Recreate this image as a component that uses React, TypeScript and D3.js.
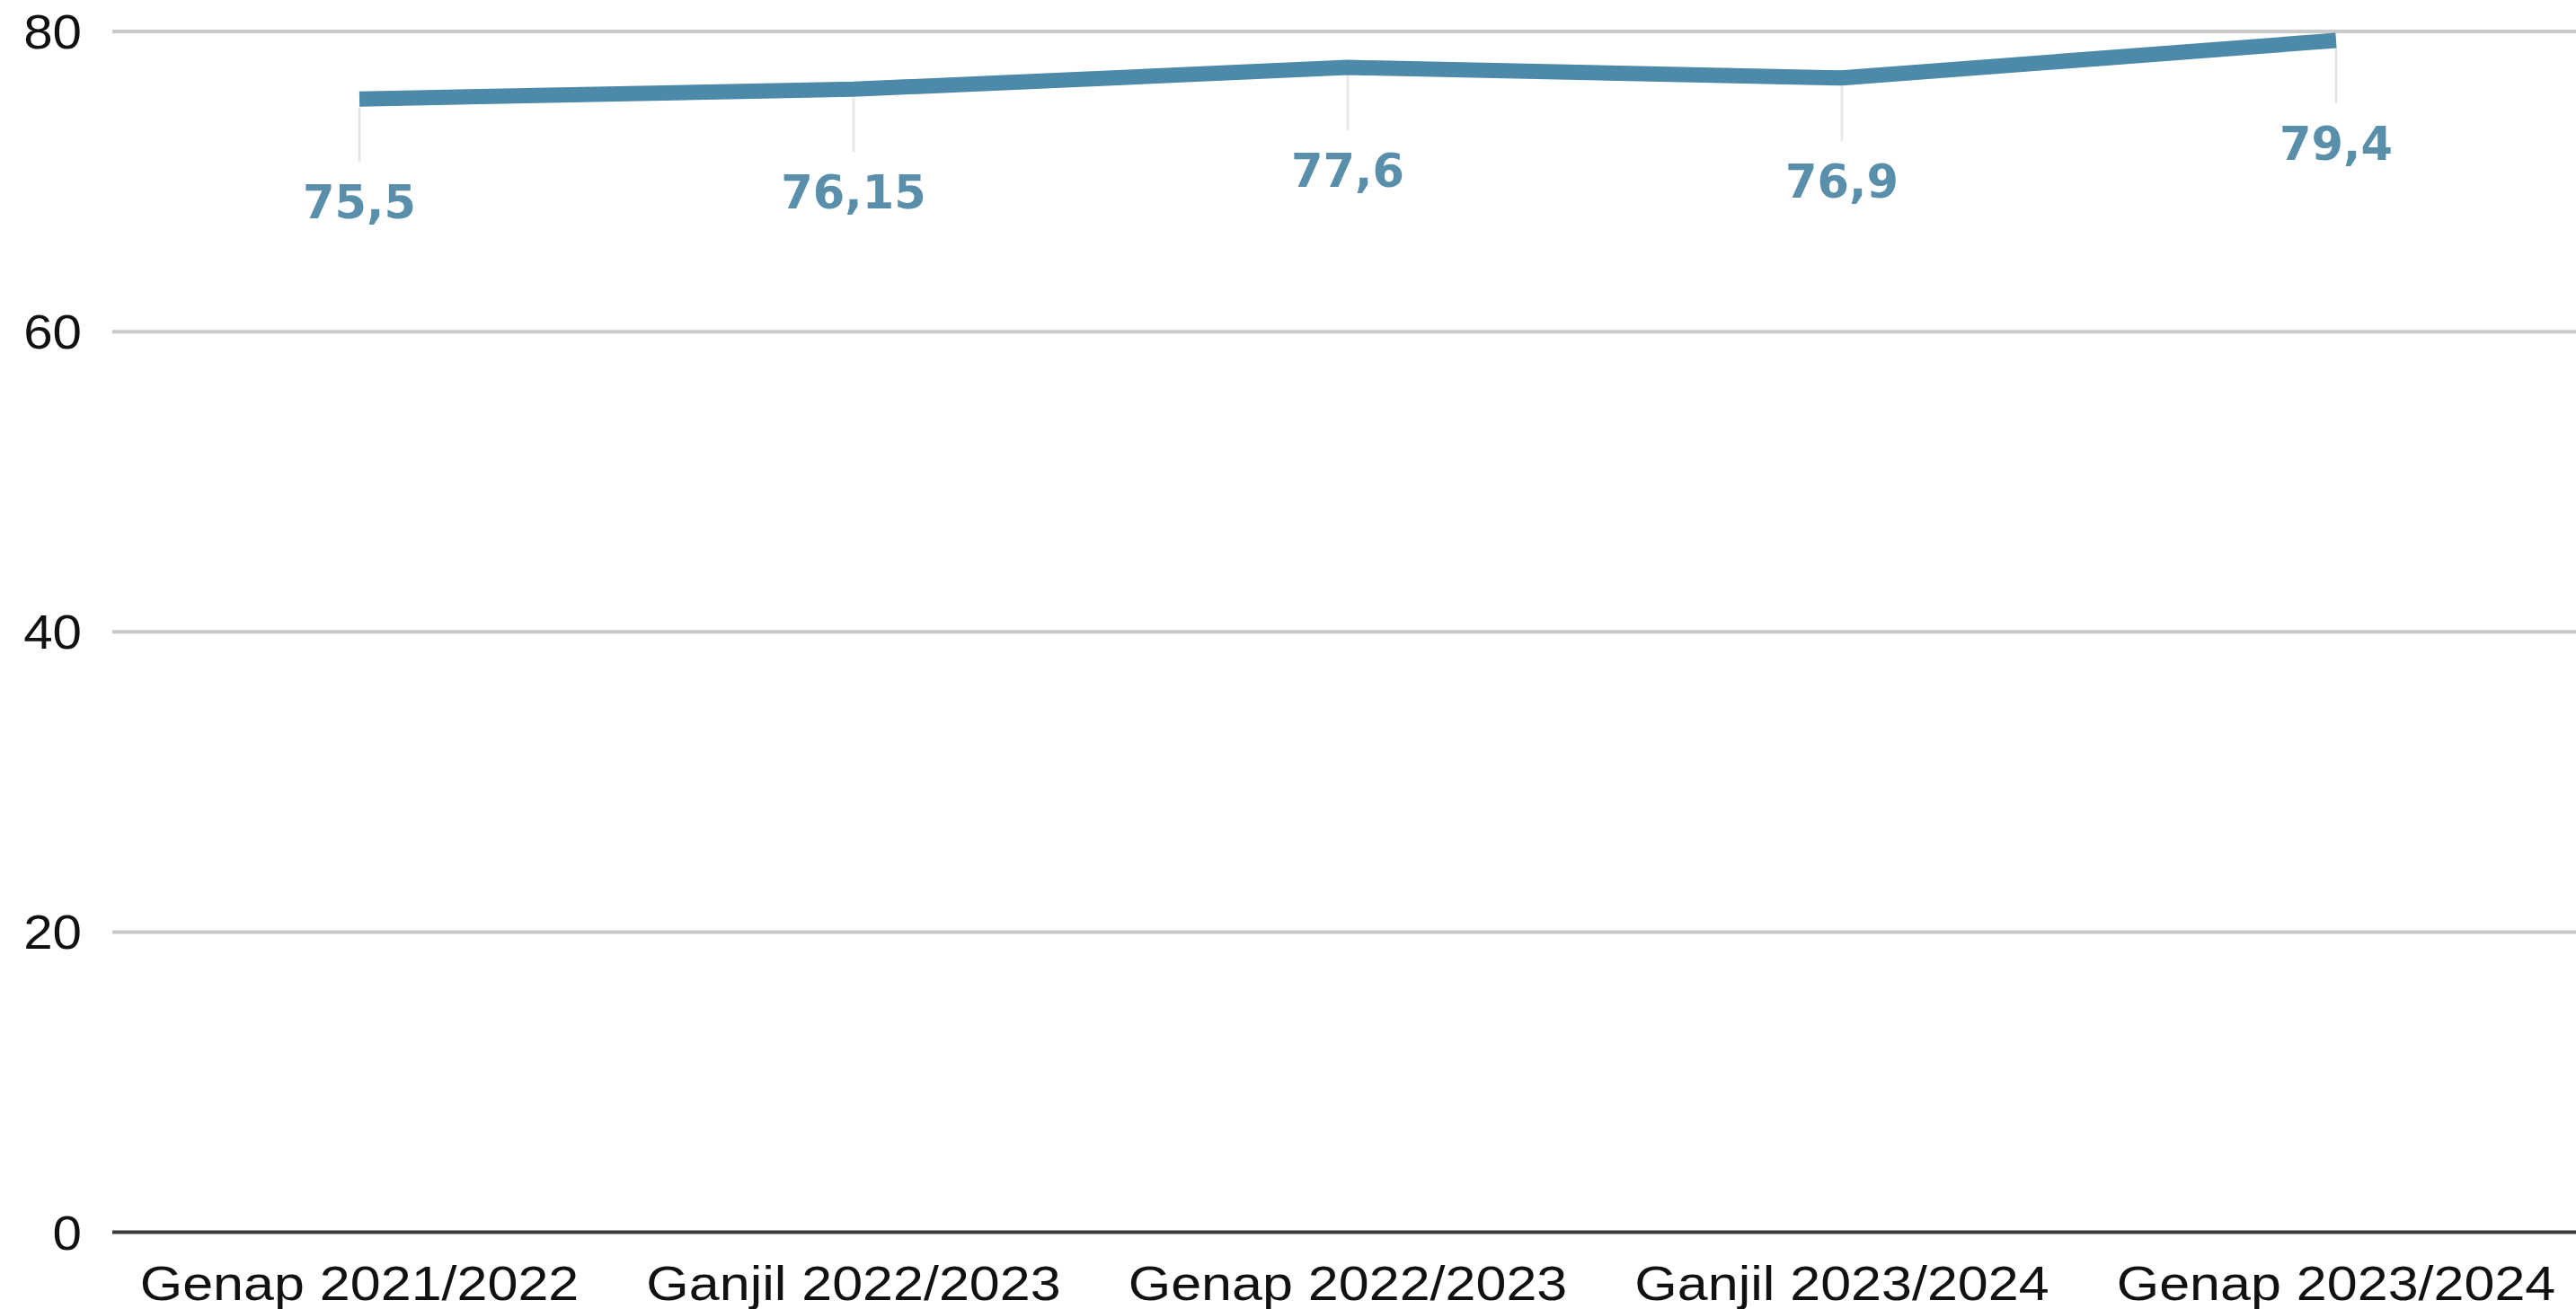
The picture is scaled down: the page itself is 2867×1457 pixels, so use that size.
import React from "react";
import * as d3 from "d3";

const categories = [
  "Genap 2021/2022",
  "Ganjil 2022/2023",
  "Genap 2022/2023",
  "Ganjil 2023/2024",
  "Genap 2023/2024",
];
const values = [75.5, 76.15, 77.6, 76.9, 79.4];
const valueLabels = ["75,5", "76,15", "77,6", "76,9", "79,4"];
const yTicks = [0, 20, 40, 60, 80];

const W = 2867;
const H = 1457;

export default function App() {
  const x = d3.scalePoint<string>().domain(categories).range([125, 2875]).padding(0.5);
  const y = d3.scaleLinear().domain([0, 80]).range([1371.5, 35]);
  const line = d3
    .line<number>()
    .x((_, i) => x(categories[i]) as number)
    .y((d) => y(d))
    .curve(d3.curveLinear);

  return (
    <svg
      width={W}
      height={H}
      style={{ position: "absolute", left: 0, top: 0, background: "#fff" }}
    >
      {yTicks.map((t) =>
        t === 0 ? null : (
          <line key={t} x1={125} x2={W} y1={y(t)} y2={y(t)} stroke="#c9c9c9" strokeWidth={4} />
        )
      )}
      {yTicks.map((t) => (
        <text
          key={"l" + t}
          transform={`translate(91,${y(t) + 19}) scale(1.1,1)`}
          textAnchor="end"
          fontFamily="Liberation Sans, Arial, sans-serif"
          fontSize={53}
          fill="#111"
        >
          {t}
        </text>
      ))}
      {values.map((v, i) => (
        <line
          key={"d" + i}
          x1={x(categories[i])}
          x2={x(categories[i])}
          y1={y(v) + 9}
          y2={y(v) + 70}
          stroke="#e8e8e8"
          strokeWidth={3}
        />
      ))}
      <line x1={125} x2={W} y1={y(0)} y2={y(0)} stroke="#3a3a3a" strokeWidth={4} />
      <path
        d={line(values) || ""}
        fill="none"
        stroke="#4d89a9"
        strokeWidth={17}
        strokeLinejoin="round"
        strokeLinecap="butt"
      />
      {values.map((v, i) => (
        <text
          key={"v" + i}
          x={x(categories[i])}
          y={y(v) + 133}
          textAnchor="middle"
          fontFamily="DejaVu Sans, Verdana, sans-serif"
          fontWeight="bold"
          fontSize={51}
          fill="#5a8fab"
        >
          {valueLabels[i]}
        </text>
      ))}
      {categories.map((c) => (
        <text
          key={"c" + c}
          transform={`translate(${x(c)},1447) scale(1.13,1)`}
          textAnchor="middle"
          fontFamily="Liberation Sans, Arial, sans-serif"
          fontSize={54}
          fill="#111"
        >
          {c}
        </text>
      ))}
    </svg>
  );
}
